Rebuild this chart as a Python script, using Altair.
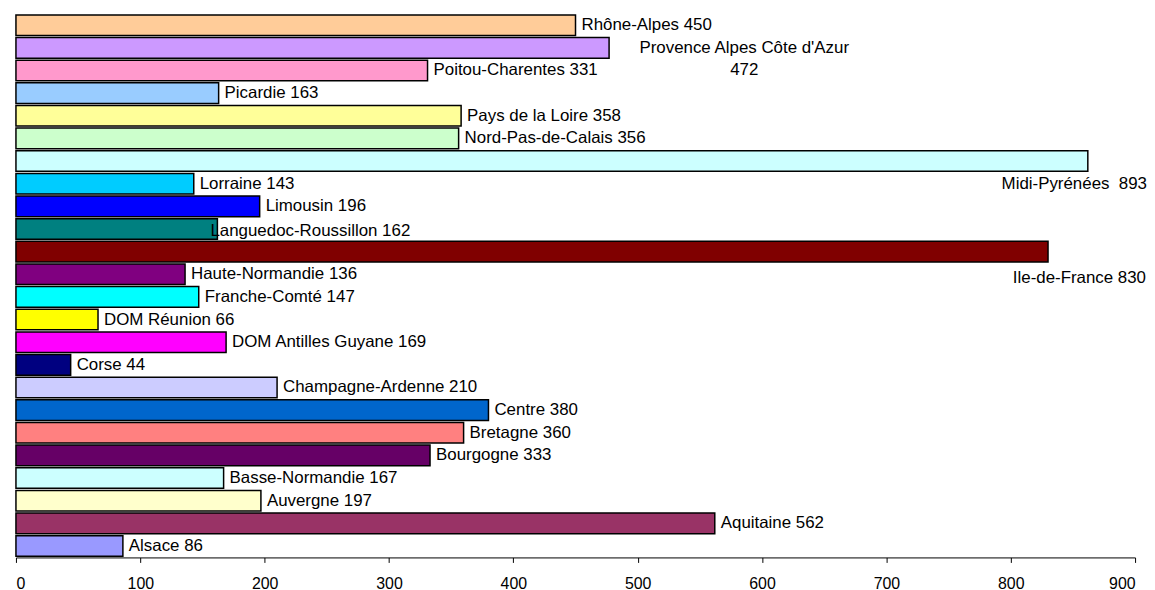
import altair as alt
import pandas as pd

regions = [
    "Rhône-Alpes", "Provence Alpes Côte d'Azur", "Poitou-Charentes", "Picardie",
    "Pays de la Loire", "Nord-Pas-de-Calais", "Midi-Pyrénées", "Lorraine",
    "Limousin", "Languedoc-Roussillon", "Ile-de-France", "Haute-Normandie",
    "Franche-Comté", "DOM Réunion", "DOM Antilles Guyane", "Corse",
    "Champagne-Ardenne", "Centre", "Bretagne", "Bourgogne",
    "Basse-Normandie", "Auvergne", "Aquitaine", "Alsace",
]
# bar lengths as drawn
values = [450, 477, 331, 163, 358, 356, 862, 143, 196, 162, 830, 136,
          147, 66, 169, 44, 210, 380, 360, 333, 167, 197, 562, 86]
# numbers printed in the labels
label_numbers = [450, 472, 331, 163, 358, 356, 893, 143, 196, 162, 830, 136,
                 147, 66, 169, 44, 210, 380, 360, 333, 167, 197, 562, 86]
colors = [
    "#FFCC99", "#CC99FF", "#FF99CC", "#99CCFF", "#FFFF99", "#CCFFCC",
    "#CCFFFF", "#00CCFF", "#0000FF", "#008080", "#800000", "#800080",
    "#00FFFF", "#FFFF00", "#FF00FF", "#000080", "#CCCCFF", "#0066CC",
    "#FF8080", "#660066", "#CCFFFF", "#FFFFCC", "#993366", "#9999FF",
]

labels = []
for r, n in zip(regions, label_numbers):
    if r.startswith("Provence"):
        labels.append(f"{r}\n{n}")
    elif r == "Midi-Pyrénées":
        labels.append(f"{r}\u00a0 {n}")
    else:
        labels.append(f"{r} {n}")

df = pd.DataFrame({"region": regions, "value": values, "label": labels, "color": colors})

FONT = "Liberation Sans"
W, H = 1126, 547

x = alt.X("value:Q", scale=alt.Scale(domain=[0, 900], nice=False),
          axis=alt.Axis(values=list(range(0, 1000, 100)), grid=False, title=None,
                        domainColor="black", tickColor="black", tickSize=5,
                        labelFont=FONT, labelFontSize=16, labelColor="black",
                        labelPadding=13, domainWidth=1, tickWidth=1))
y = alt.Y("region:N", scale=alt.Scale(domain=regions, paddingInner=0.09, paddingOuter=0.05),
          axis=None)

base = alt.Chart(df)

bars = base.mark_bar(stroke="black", strokeWidth=1.5).encode(
    x=x, y=y, color=alt.Color("color:N", scale=None)
)

special = ["Provence Alpes Côte d'Azur", "Midi-Pyrénées", "Ile-de-France", "Languedoc-Roussillon"]

txt_kw = dict(font=FONT, fontSize=17, color="black", baseline="middle")

normal = base.transform_filter(
    ~alt.FieldOneOfPredicate(field="region", oneOf=special)
).mark_text(align="left", dx=6, **txt_kw).encode(x="value:Q", y=y, text="label:N")

langue = base.transform_filter(
    alt.FieldEqualPredicate(field="region", equal="Languedoc-Roussillon")
).mark_text(align="left", dx=-7, dy=2, **txt_kw).encode(x="value:Q", y=y, text="label:N")

provence = base.transform_filter(
    alt.FieldEqualPredicate(field="region", equal="Provence Alpes Côte d'Azur")
).mark_text(align="center", dx=136, dy=0, lineBreak="\n", lineHeight=22.5,
            **txt_kw).encode(x="value:Q", y=y, text="label:N")

midi = base.transform_filter(
    alt.FieldEqualPredicate(field="region", equal="Midi-Pyrénées")
).mark_text(align="right", dy=23, **txt_kw).encode(x=alt.value(W + 12), y=y, text="label:N")

ile = base.transform_filter(
    alt.FieldEqualPredicate(field="region", equal="Ile-de-France")
).mark_text(align="right", dy=27, **txt_kw).encode(x=alt.value(W + 11), y=y, text="label:N")

chart = alt.layer(bars, normal, langue, provence, midi, ile).properties(
    width=W, height=H,
    padding={"left": 7, "top": 4, "right": 0, "bottom": 2},
).configure_view(stroke=None)

chart.save("out.html", embed_options={"renderer": "svg", "actions": False})
